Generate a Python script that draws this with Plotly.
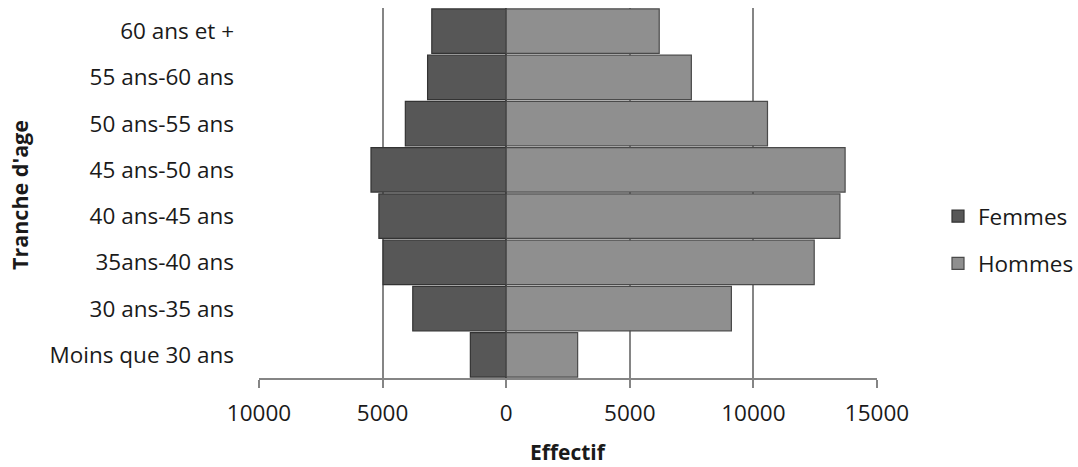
import plotly.graph_objects as go

# Age groups, youngest first (bottom of the pyramid)
tranches = ["Moins que 30 ans", "30 ans-35 ans", "35ans-40 ans", "40 ans-45 ans",
            "45 ans-50 ans", "50 ans-55 ans", "55 ans-60 ans", "60 ans et +"]
femmes = [1450, 3780, 4980, 5150, 5470, 4080, 3180, 3010]
hommes = [2890, 9110, 12460, 13500, 13710, 10570, 7490, 6190]

tick_vals = [-10000, -5000, 0, 5000, 10000, 15000]
tick_text = ["10000", "5000", "0", "5000", "10000", "15000"]

FONT = "Open Sans"
GRID = "#858585"
SIZE = 22.5
W, H = 1078, 467

fig = go.Figure()
fig.add_trace(go.Bar(
    y=tranches, x=[-v for v in femmes], name="Femmes", orientation="h",
    legendgroup="f",
    marker=dict(color="#575757", line=dict(color="#333333", width=1.2)),
))
fig.add_trace(go.Bar(
    y=tranches, x=hommes, name="Hommes", orientation="h",
    legendgroup="h",
    marker=dict(color="#8f8f8f", line=dict(color="#4a4a4a", width=1.2)),
))

fig.update_layout(
    width=W, height=H,
    margin=dict(l=259, r=201, t=8, b=89),
    paper_bgcolor="white", plot_bgcolor="white",
    barmode="relative", bargap=0.04,
    font=dict(family=FONT, size=SIZE, color="#1a1a1a"),
    showlegend=True,
    legend=dict(xref="container", yref="container",
                x=938 / W, y=1 - 240 / H, xanchor="left", yanchor="middle",
                font=dict(size=SIZE), itemwidth=30, tracegroupgap=15,
                traceorder="grouped"),
    xaxis=dict(
        range=[-10000, 15000], tickvals=tick_vals, ticktext=tick_text,
        showgrid=True, gridcolor=GRID, gridwidth=1.5,
        zeroline=True, zerolinecolor="#555555", zerolinewidth=1.5,
        showline=True, linecolor=GRID, linewidth=1.5,
        ticks="outside", ticklen=8, tickcolor=GRID, tickwidth=1.5,
        ticklabelstandoff=6, tickfont=dict(size=SIZE), fixedrange=True,
    ),
    yaxis=dict(
        categoryorder="array", categoryarray=tranches,
        showgrid=False, showline=False, ticks="",
        ticklabelstandoff=24, tickfont=dict(size=SIZE), fixedrange=True,
    ),
    annotations=[
        dict(text="<b>Effectif</b>", xref="paper", yref="paper",
             x=0.5, y=-(452 - 378) / 370, xanchor="center", yanchor="middle",
             showarrow=False, font=dict(size=21, family=FONT)),
        dict(text="<b>Tranche d'age</b>", xref="paper", yref="paper",
             x=-(259 - 20) / 618, y=(378 - 195) / 370, xanchor="center",
             yanchor="middle", textangle=-90, showarrow=False,
             font=dict(size=21.5, family=FONT)),
    ],
)

fig.write_html("out.html")
